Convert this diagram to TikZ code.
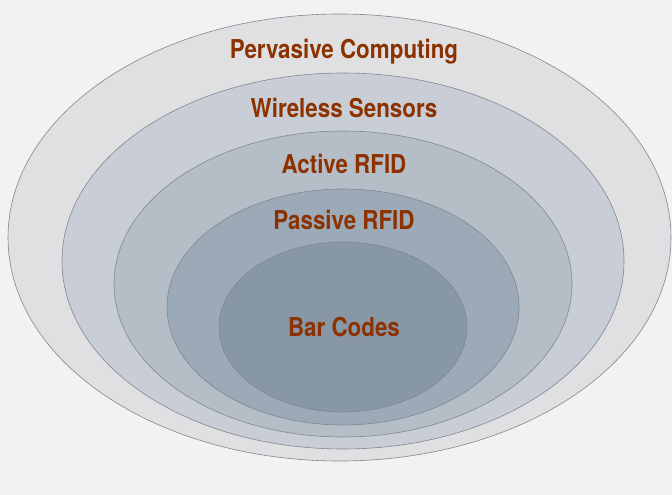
\documentclass[tikz,border=0pt]{standalone}
\usepackage{fontspec}
\setmainfont{TeX Gyre Heros}
\newfontfamily\condbold[FakeStretch=0.86]{TeX Gyre Heros Bold}
\definecolor{bgpaper}{HTML}{F2F2F2}
\definecolor{rimgray}{HTML}{7E8891}
\definecolor{rustred}{HTML}{8C3200}
\definecolor{ringA}{HTML}{E0E0E2}
\definecolor{ringB}{HTML}{C9CED6}
\definecolor{ringC}{HTML}{B5BDC7}
\definecolor{ringD}{HTML}{9CA9B6}
\definecolor{ringE}{HTML}{8797A5}

\begin{document}
\begin{tikzpicture}[
  x=1pt, y=-1pt,
  ring/.style={fill=#1, draw=rimgray, line width=0.6pt},
  tag/.style={font=\condbold\fontsize{26}{28}\selectfont, text=rustred,
    inner sep=0pt, anchor=base},
]

% Background
\fill[bgpaper] (0,0) rectangle (672,495);
\useasboundingbox (0,0) rectangle (672,495);

% Nested rings, outside in
\filldraw[ring=ringA] (339.5,237.5) ellipse [x radius=331.5pt, y radius=223.5pt];
\filldraw[ring=ringB] (343,261) ellipse [x radius=281pt, y radius=188pt];
\filldraw[ring=ringC] (343,284) ellipse [x radius=229pt, y radius=153pt];
\filldraw[ring=ringD] (343,307) ellipse [x radius=176pt, y radius=118pt];
\filldraw[ring=ringE] (343,327) ellipse [x radius=124pt, y radius=85pt];

% Labels, placed on their baselines
\node[tag] (pervasive) at (344,58.3) {Pervasive Computing};
\node[tag] (wireless) at (344,117.7) {Wireless Sensors};
\node[tag] (active) at (344,173.3) {Active RFID};
\node[tag] (passive) at (344,229.3) {Passive RFID};
\node[tag] (barcodes) at (344,336.7) {Bar Codes};

\end{tikzpicture}
\end{document}
